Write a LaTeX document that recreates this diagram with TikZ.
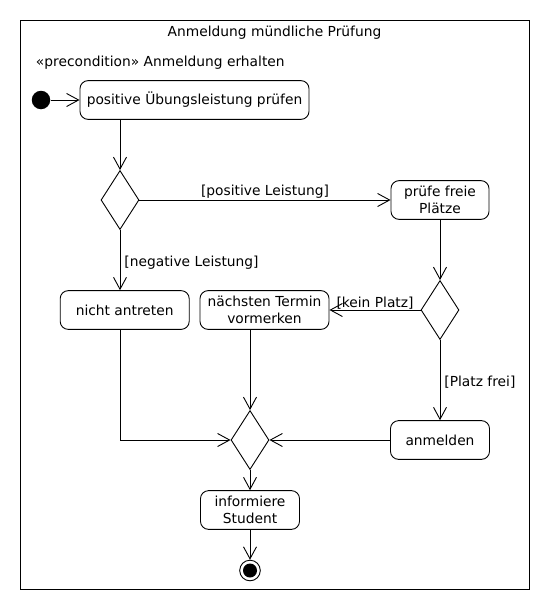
\documentclass[tikz,border=0pt]{standalone}
\usepackage{fontspec}
\setmainfont{DejaVu Sans}
\usetikzlibrary{arrows.meta,shapes.geometric}

\begin{document}
\begin{tikzpicture}[x=1pt,y=-1pt,line width=0.9pt,
  font=\fontsize{13.8}{16.5}\selectfont,
  action/.style={draw,rounded corners=8pt,minimum height=38.7pt,inner sep=0pt,align=center},
  decision/.style={draw,diamond,minimum width=38pt,minimum height=59pt,inner sep=0pt},
  flow/.style={-{Straight Barb[length=12pt,width=13pt]}},
  guard/.style={inner sep=1pt}]

\useasboundingbox (0,0) rectangle (550,610);
\draw (20,20) rectangle (529.5,589);

\node[anchor=base] (title) at (274.5,37) {Anmeldung mündliche Prüfung};
\node[anchor=base west,inner sep=0pt] (pre) at (35.5,66.7) {«precondition» Anmeldung erhalten};

\node[circle,fill,minimum size=18.5pt,inner sep=0pt] (start) at (41,100) {};
\node[action,minimum width=229pt] (pruefen) at (194.5,100) {positive Übungsleistung prüfen};
\node[decision] (d1) at (120,200) {};
\node[action,minimum width=98pt] (plaetze) at (440,200) {prüfe freie\\Plätze};
\node[decision] (d2) at (440,310) {};
\node[action,minimum width=129pt] (nicht) at (124.7,310) {nicht antreten};
\node[action,minimum width=129pt] (termin) at (264.5,310) {nächsten Termin\\vormerken};
\node[action,minimum width=99pt] (anmelden) at (440,440) {anmelden};
\node[decision] (merge) at (250,440) {};
\node[action,minimum width=99pt] (informiere) at (250,510) {informiere\\Student};
\node[circle,draw,minimum size=20.6pt,inner sep=0pt] (end) at (250,570.5) {};
\fill (end) circle (7pt);

\draw[flow] (start) -- (pruefen);
\draw[flow] (pruefen.south -| d1) -- (d1);
\draw[flow] (d1) -- node[above,guard] {[positive Leistung]} (plaetze);
\draw[flow] (d1) -- node[right,pos=0.55,inner sep=4pt] {[negative Leistung]} (nicht.north -| d1);
\draw[flow] (plaetze) -- (d2);
\draw[flow] (d2) -- node[above,inner sep=0.5pt] {[kein Platz]} (termin);
\draw[flow] (d2) -- node[right,pos=0.52,inner sep=4pt] {[Platz frei]} (anmelden);
\draw[flow] (nicht.south -| d1) |- (merge);
\draw[flow] (termin.south -| merge) -- (merge);
\draw[flow] (anmelden) -- (merge);
\draw[flow] (merge) -- (informiere);
\draw[flow] (informiere) -- (end);

\end{tikzpicture}
\end{document}
